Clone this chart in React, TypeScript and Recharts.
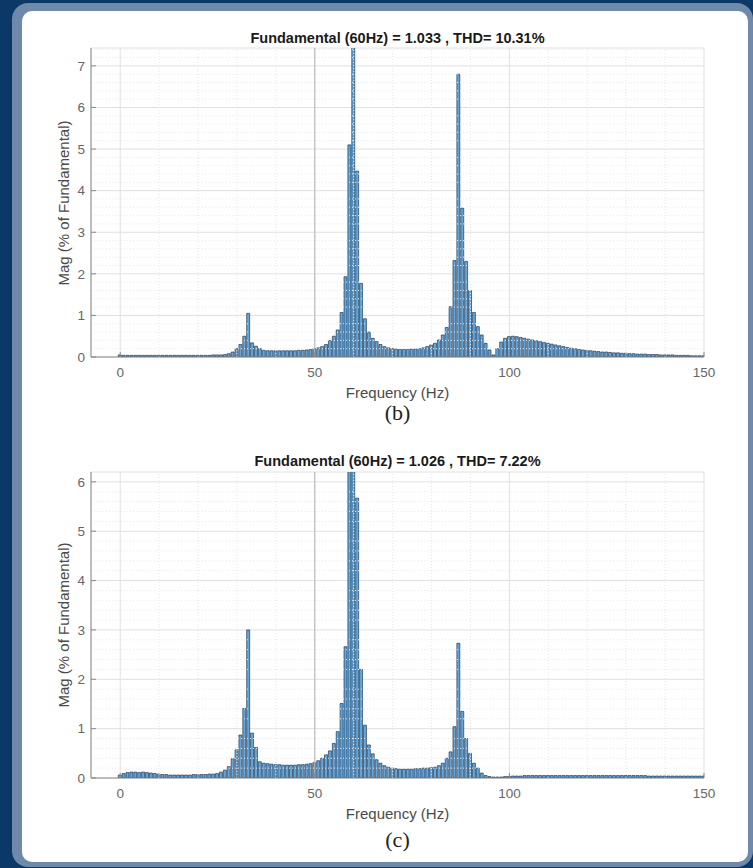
import React from 'react';
import { BarChart, Bar, XAxis, YAxis, CartesianGrid, ReferenceLine } from 'recharts';

const freqHz: number[] = Array.from({ length: 151 }, (_, i) => i);

const magB: number[] = [
  0.05, 0.04, 0.04, 0.04, 0.04, 0.04, 0.04, 0.04, 0.04, 0.04,
  0.04, 0.04, 0.04, 0.04, 0.04, 0.04, 0.04, 0.04, 0.04, 0.04,
  0.04, 0.04, 0.04, 0.04, 0.05, 0.05, 0.05, 0.06, 0.08, 0.12,
  0.2, 0.3, 0.5, 1.05, 0.34, 0.26, 0.2, 0.16, 0.15, 0.15,
  0.15, 0.15, 0.15, 0.15, 0.15, 0.15, 0.16, 0.16, 0.17, 0.18,
  0.2, 0.22, 0.25, 0.3, 0.4, 0.5, 0.65, 1.07, 1.93, 5.1,
  7.6, 4.47, 1.77, 0.92, 0.6, 0.45, 0.37, 0.3, 0.25, 0.22,
  0.2, 0.19, 0.18, 0.18, 0.18, 0.19, 0.19, 0.2, 0.22, 0.25,
  0.29, 0.33, 0.41, 0.53, 0.71, 1.21, 2.32, 6.8, 3.58, 2.3,
  1.6, 1.07, 0.73, 0.53, 0.33, 0.17, 0.05, 0.2, 0.36, 0.45,
  0.49, 0.5, 0.49, 0.47, 0.45, 0.43, 0.41, 0.39, 0.37, 0.35,
  0.33, 0.31, 0.29, 0.27, 0.25, 0.23, 0.21, 0.2, 0.18, 0.17,
  0.16, 0.15, 0.14, 0.13, 0.12, 0.12, 0.11, 0.1, 0.1, 0.09,
  0.09, 0.08, 0.08, 0.07, 0.07, 0.07, 0.06, 0.06, 0.06, 0.05,
  0.05, 0.05, 0.05, 0.04, 0.04, 0.04, 0.04, 0.03, 0.03, 0.03,
  0.03,
];

const magC: number[] = [
  0.06, 0.09, 0.11, 0.12, 0.12, 0.11, 0.12, 0.11, 0.1, 0.09,
  0.08, 0.07, 0.07, 0.06, 0.06, 0.06, 0.06, 0.06, 0.06, 0.07,
  0.07, 0.07, 0.07, 0.08, 0.08, 0.09, 0.12, 0.16, 0.23, 0.39,
  0.57, 0.87, 1.41, 3.0, 0.91, 0.62, 0.33, 0.3, 0.29, 0.28,
  0.27, 0.27, 0.26, 0.26, 0.26, 0.26, 0.27, 0.27, 0.28, 0.29,
  0.31, 0.35, 0.4, 0.47, 0.55, 0.7, 0.94, 1.51, 2.66, 7.0,
  7.0, 5.67, 2.2, 1.07, 0.67, 0.49, 0.37, 0.3, 0.25, 0.22,
  0.2, 0.19, 0.18, 0.18, 0.18, 0.18, 0.19, 0.19, 0.2, 0.2,
  0.21, 0.22, 0.25, 0.3, 0.4, 0.53, 1.04, 2.73, 1.35, 0.8,
  0.5, 0.3, 0.2, 0.1, 0.05, 0.03, 0.02, 0.02, 0.02, 0.03,
  0.03, 0.04, 0.04, 0.04, 0.05, 0.05, 0.05, 0.05, 0.05, 0.05,
  0.05, 0.05, 0.05, 0.05, 0.05, 0.05, 0.05, 0.05, 0.05, 0.05,
  0.05, 0.05, 0.05, 0.05, 0.05, 0.05, 0.05, 0.05, 0.05, 0.05,
  0.05, 0.05, 0.05, 0.05, 0.05, 0.05, 0.04, 0.04, 0.04, 0.04,
  0.04, 0.04, 0.04, 0.04, 0.04, 0.04, 0.04, 0.04, 0.04, 0.04,
  0.04,
];

const xTicks = [0, 50, 100, 150];
const xMinorTicks = [10, 20, 30, 40, 60, 70, 80, 90, 110, 120, 130, 140];
const yTicksB = [0, 1, 2, 3, 4, 5, 6, 7];
const yTicksC = [0, 1, 2, 3, 4, 5, 6];
const titleB = 'Fundamental (60Hz) = 1.033 , THD= 10.31%';
const titleC = 'Fundamental (60Hz) = 1.026 , THD= 7.22%';
const xLabel = 'Frequency (Hz)';
const yLabel = 'Mag (% of Fundamental)';

const X_MIN = -7.5;
const X_MAX = 150;
const PLOT_LEFT = 91;
const PLOT_RIGHT = 704;
const W = 753;
const AXIS_COLOR = '#8a8a8a';
const SANS = '"Liberation Sans", Arial, Helvetica, sans-serif';

function minorY(max: number): number[] {
  const out: number[] = [];
  for (let i = 1; i * 0.2 < max; i++) {
    if (i % 5 !== 0) out.push(Math.round(i * 2) / 10);
  }
  return out;
}

type PanelProps = {
  top: number;
  height: number;
  plotTop: number;
  plotBottom: number;
  yMax: number;
  yTicks: number[];
  mags: number[];
  title: string;
  caption: string;
  titleY: number;
  xLabelY: number;
  captionY: number;
};

function Panel(p: PanelProps) {
  const data = freqHz.map((f, i) => ({ f, m: p.mags[i] }));
  const xAxisH = 30;
  const yAxisW = 40;
  const margin = {
    top: p.plotTop - p.top,
    bottom: p.top + p.height - p.plotBottom - xAxisH,
    left: PLOT_LEFT - yAxisW,
    right: W - PLOT_RIGHT,
  };
  const midY = (p.plotTop + p.plotBottom) / 2;
  const tickStyle = { fill: '#666666', fontSize: 13.5, fontFamily: SANS };
  return (
    <>
      <div style={{ position: 'absolute', left: 0, top: p.top, width: W, height: p.height }}>
        <BarChart width={W} height={p.height} data={data} margin={margin} barCategoryGap={0}>
          {xMinorTicks.map((v) => (
            <ReferenceLine key={'xm' + v} x={v} xAxisId="b" yAxisId="l" stroke="#e6e6e6" strokeDasharray="1 2" />
          ))}
          {minorY(p.yMax).map((v) => (
            <ReferenceLine key={'ym' + v} y={v} xAxisId="b" yAxisId="l" stroke="#eaeaea" strokeDasharray="1 2" />
          ))}
          <CartesianGrid xAxisId="b" yAxisId="l" stroke="#e0e0e0" />
          <ReferenceLine x={50} xAxisId="b" yAxisId="l" stroke="#b5b5b5" />
          <XAxis
            xAxisId="b"
            dataKey="f"
            type="number"
            domain={[X_MIN, X_MAX]}
            ticks={xTicks}
            allowDataOverflow
            height={xAxisH}
            tickSize={-5}
            tickMargin={15}
            tick={tickStyle}
            stroke={AXIS_COLOR}
          />
          <XAxis
            xAxisId="t"
            orientation="top"
            type="number"
            domain={[X_MIN, X_MAX]}
            ticks={xTicks}
            allowDataOverflow
            height={0}
            tickSize={-5}
            tickFormatter={() => ''}
            stroke={AXIS_COLOR}
          />
          <YAxis
            yAxisId="l"
            type="number"
            domain={[0, p.yMax]}
            ticks={p.yTicks}
            allowDataOverflow
            width={yAxisW}
            tickSize={-5}
            tickMargin={11}
            tick={tickStyle}
            stroke={AXIS_COLOR}
          />
          <YAxis
            yAxisId="r"
            orientation="right"
            type="number"
            domain={[0, p.yMax]}
            ticks={p.yTicks}
            allowDataOverflow
            width={0}
            tickSize={-5}
            tickFormatter={() => ''}
            stroke={AXIS_COLOR}
          />
          <Bar
            dataKey="m"
            xAxisId="b"
            yAxisId="l"
            barSize={3}
            fill="#62a6dc"
            stroke="#13243a"
            strokeWidth={0.6}
            isAnimationActive={false}
          />
        </BarChart>
      </div>
      <div
        style={{
          position: 'absolute',
          left: (PLOT_LEFT + PLOT_RIGHT) / 2,
          top: p.titleY,
          transform: 'translate(-50%, -50%)',
          whiteSpace: 'nowrap',
          fontFamily: SANS,
          fontWeight: 'bold',
          fontSize: 14.5,
          color: '#1a1a1a',
        }}
      >
        {p.title}
      </div>
      <div
        style={{
          position: 'absolute',
          left: 63,
          top: midY,
          transform: 'translate(-50%, -50%) rotate(-90deg)',
          whiteSpace: 'nowrap',
          fontFamily: SANS,
          fontSize: 15,
          color: '#4a4a4a',
        }}
      >
        {yLabel}
      </div>
      <div
        style={{
          position: 'absolute',
          left: (PLOT_LEFT + PLOT_RIGHT) / 2,
          top: p.xLabelY,
          transform: 'translate(-50%, -50%)',
          whiteSpace: 'nowrap',
          fontFamily: SANS,
          fontSize: 15,
          color: '#4a4a4a',
        }}
      >
        {xLabel}
      </div>
      <div
        style={{
          position: 'absolute',
          left: (PLOT_LEFT + PLOT_RIGHT) / 2,
          top: p.captionY,
          transform: 'translate(-50%, -50%)',
          whiteSpace: 'nowrap',
          fontFamily: '"Liberation Serif", "Times New Roman", serif',
          fontSize: 22,
          color: '#222222',
        }}
      >
        {p.caption}
      </div>
    </>
  );
}

export default function App() {
  return (
    <div style={{ position: 'absolute', left: 0, top: 0, width: 753, height: 868, background: '#0b3866', overflow: 'hidden' }}>
      <div style={{ position: 'absolute', left: 12, top: 3, width: 741, height: 864, background: '#6f89aa', borderRadius: 16 }} />
      <div style={{ position: 'absolute', left: 22, top: 11, width: 726, height: 851, background: '#ffffff', borderRadius: 10 }} />
      <Panel
        top={0}
        height={430}
        plotTop={48}
        plotBottom={357}
        yMax={7.43}
        yTicks={yTicksB}
        mags={magB}
        title={titleB}
        caption="(b)"
        titleY={38}
        xLabelY={392}
        captionY={413}
      />
      <Panel
        top={430}
        height={438}
        plotTop={472}
        plotBottom={778}
        yMax={6.2}
        yTicks={yTicksC}
        mags={magC}
        title={titleC}
        caption="(c)"
        titleY={461}
        xLabelY={813}
        captionY={840}
      />
    </div>
  );
}
